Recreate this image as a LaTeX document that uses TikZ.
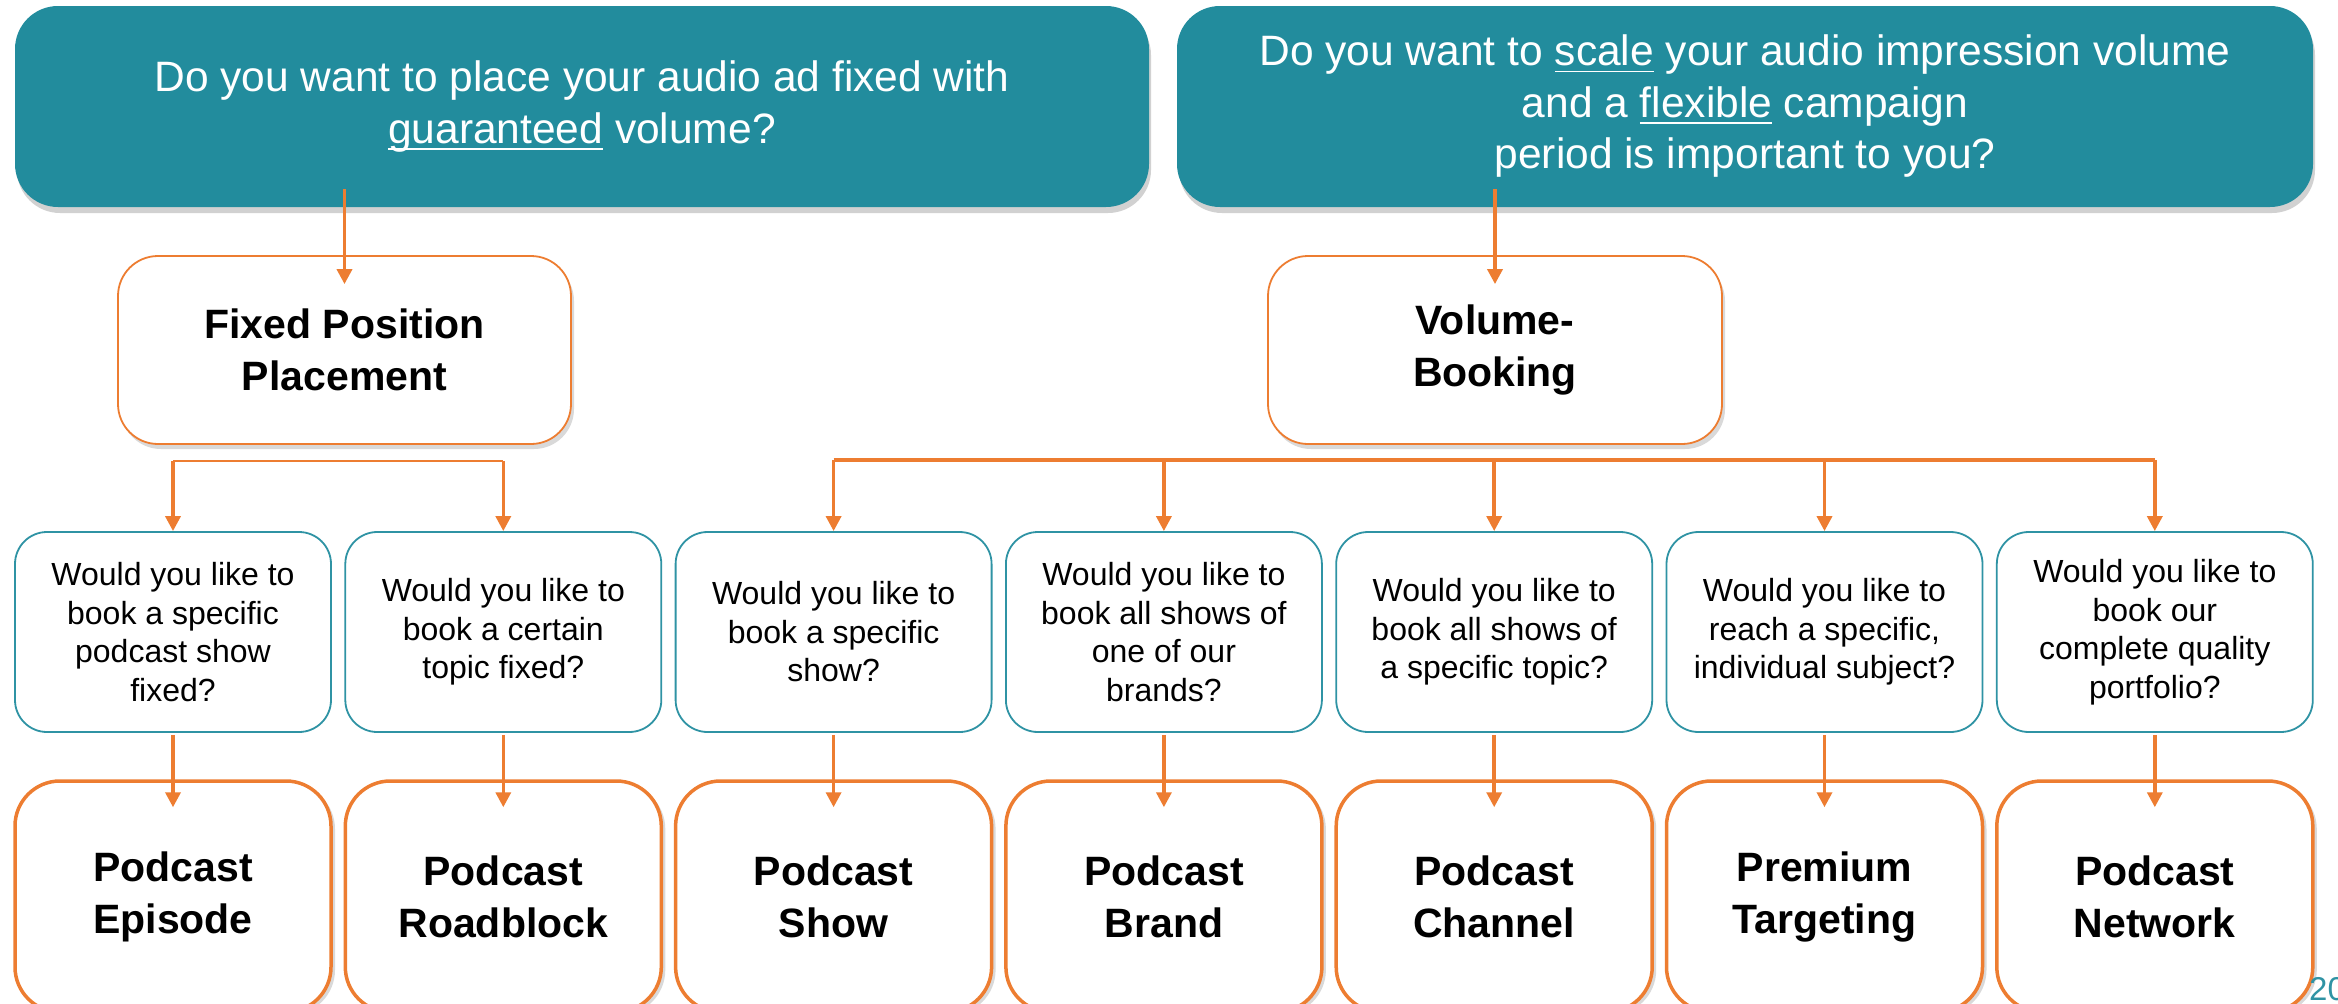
\documentclass[tikz,border=0pt]{standalone}
\usepackage{fontspec}
\setmainfont{Liberation Sans}
\usetikzlibrary{arrows.meta,calc,shadows}
\definecolor{tealfill}{HTML}{228C9D}
\definecolor{tealline}{HTML}{2F93A4}
\definecolor{orng}{HTML}{ED7D31}
\newcommand{\myul}[1]{\setbox0\hbox{#1}\rlap{\rule[-6.5pt]{\wd0}{1.8pt}}\box0\relax}
\begin{document}
\begin{tikzpicture}[x=1pt,y=-1pt,
  headbox/.style={fill=tealfill, rounded corners=43pt, minimum width=1134pt, minimum height=201pt,
    inner sep=0pt, text=white, align=center, font=\fontsize{42.5}{51.5}\selectfont,
    drop shadow={shadow xshift=2pt, shadow yshift=-6pt, opacity=0.18, fill=black}},
  catbox/.style={draw=orng, line width=1.8pt, fill=white, rounded corners=40pt,
    minimum width=453pt, minimum height=188pt, inner sep=0pt, align=center,
    font=\bfseries\fontsize{41}{52}\selectfont,
    drop shadow={shadow xshift=3pt, shadow yshift=-5pt, opacity=0.15, fill=black}},
  qbox/.style={draw=tealline, line width=1.8pt, fill=white, rounded corners=32pt,
    minimum width=316pt, minimum height=200pt, inner sep=0pt, align=center,
    font=\fontsize{32}{38.5}\selectfont},
  resbox/.style={draw=orng, line width=3.5pt, fill=white, rounded corners=45pt,
    minimum width=316pt, minimum height=231pt, inner sep=0pt, align=center,
    font=\bfseries\fontsize{41}{52}\selectfont,
    drop shadow={shadow xshift=4pt, shadow yshift=-3pt, opacity=0.15, fill=black}},
  arr/.style={draw=orng, line width=3.5pt, -{Triangle[width=15pt,length=15pt]}},
  barline/.style={draw=orng, line width=3.5pt},
  thinbar/.style={draw=orng, line width=1.6pt},
]
\useasboundingbox (0,0) rectangle (2338,1004);

% header questions
\node[headbox] (tl) at (582,106.5) {Do you want to place your audio ad fixed with\\\myul{guaranteed} volume?};
\node[headbox, minimum width=1136pt] (tr) at (1745,106.5) {Do you want to \myul{scale} your audio impression volume\\and a \myul{flexible} campaign\\period is important to you?};

% categories
\node[catbox] (fixed) at (344.5,350) {Fixed Position\\Placement};
\node[catbox, minimum width=454pt] (vol) at (1495,350) {Volume-\\Booking};

% question boxes
\node[qbox] (q1) at (173,632) {Would you like to\\book a specific\\podcast show\\fixed?};
\node[qbox] (q2) at (503.3,632) {Would you like to\\book a certain\\topic fixed?};
\node[qbox] (q3) at (833.6,632) {Would you like to\\book a specific\\show?};
\node[qbox] (q4) at (1163.9,632) {Would you like to\\book all shows of\\one of our\\brands?};
\node[qbox] (q5) at (1494.2,632) {Would you like to\\book all shows of\\a specific topic?};
\node[qbox] (q6) at (1824.5,632) {Would you like to\\reach a specific,\\individual subject?};
\node[qbox] (q7) at (2154.8,632) {Would you like to\\book our\\complete quality\\portfolio?};

% result boxes
\node[resbox] (r1) at (173,896.5) {Podcast\\Episode};
\node[resbox] (r2) at (503.3,896.5) {Podcast\\Roadblock};
\node[resbox] (r3) at (833.6,896.5) {Podcast\\Show};
\node[resbox] (r4) at (1163.9,896.5) {Podcast\\Brand};
\node[resbox] (r5) at (1494.2,896.5) {Podcast\\Channel};
\node[resbox] (r6) at (1824.5,896.5) {Premium\\Targeting};
\node[resbox] (r7) at (2154.8,896.5) {Podcast\\Network};

% page number
\node[anchor=base west, inner sep=0pt, text=tealline, font=\fontsize{33}{40}\selectfont] (pg) at (2309,1000) {20};

% connectors from headers
\draw[arr] ($(tl.south -| fixed.north)+(0,-18)$) -- ($(fixed.north)+(0,29)$);
\draw[arr] ($(tr.south -| vol.north)+(0,-18)$) -- ($(vol.north)+(0,29)$);

% left branch
\coordinate (lbar) at (0,461);
\draw[thinbar] (q1.north |- lbar) -- (q2.north |- lbar);
\draw[arr] (q1.north |- lbar) -- (q1.north);
\draw[arr] (q2.north |- lbar) -- (q2.north);

% right branch
\coordinate (rbar) at (0,460);
\draw[barline] (q3.north |- rbar) -- (q7.north |- rbar);
\foreach \n in {q3,q4,q5,q6,q7}{
  \draw[arr] (\n.north |- rbar) -- (\n.north);
}

% questions to results
\foreach \i in {1,...,7}{
  \draw[arr] ($(q\i.south)+(0,2)$) -- ($(r\i.north)+(0,28)$);
}
\end{tikzpicture}
\end{document}
